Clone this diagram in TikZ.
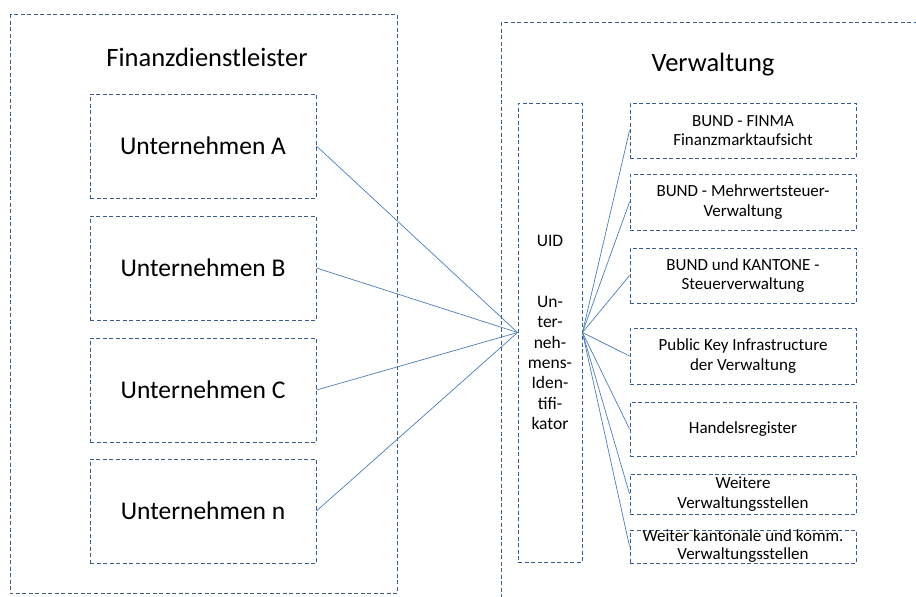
\documentclass[tikz,border=0pt]{standalone}
\usepackage{fontspec}
\setmainfont{Carlito}
\usetikzlibrary{positioning}
\definecolor{rahmen}{RGB}{56,93,138}
\definecolor{linie}{RGB}{74,126,187}

\begin{document}
\begin{tikzpicture}[x=1pt, y=-1pt,
        gruppe/.style={draw=rahmen, line width=0.9pt, dash pattern=on 4pt off 2.5pt},
        firma/.style={gruppe, minimum width=226pt, minimum height=104pt, inner sep=0pt, font=\fontsize{25.5}{30}\selectfont},
        amt/.style={gruppe, minimum width=226pt, inner sep=0pt, align=center, font=\fontsize{17}{19.5}\selectfont},
        verbindung/.style={draw=linie, line width=0.7pt}]
        \useasboundingbox (0,0) rectangle (916,597);
        \clip (0,0) rectangle (916,597);
        % die zwei Bereiche
        \draw[gruppe] (10,14) rectangle (397,593);
        \draw[gruppe] (501,22) rectangle (940,620);
        \node[font=\fontsize{26.5}{31}\selectfont] (links) at (207,57) {Finanzdienstleister};
        \node[font=\fontsize{26.5}{31}\selectfont] (rechts) at (713,65) {Verwaltung};
        \node[gruppe, minimum width=64pt, minimum height=459pt, inner sep=0pt, align=center,
              font=\fontsize{17.5}{20.3}\selectfont] (uid) at (550,332.5)
              {UID\\[40.6pt]Un-\\ter-\\neh-\\mens-\\Iden-\\tifi-\\kator};
        \foreach \name/\y/\txt in {ua/146/A, ub/268/B, uc/390/C, un/511/n}{
        \node[firma] (\name) at (203,\y) {Unternehmen \txt};
        \draw[verbindung] (\name.east) -- (uid.west);}
        \foreach \name/\y/\h/\txt in {a1/130.5/55/{BUND - FINMA\\Finanzmarktaufsicht},
                a2/202/56/{BUND - Mehrwertsteuer-\\Verwaltung},
                a3/275.5/55/{BUND und KANTONE -\\Steuerverwaltung},
                a4/356/56/{Public Key Infrastructure\\der Verwaltung},
                a5/429/54/{Handelsregister},
                a6/494/40/{Weitere\\[1pt]Verwaltungsstellen},
                a7/546.5/33/{Weiter kantonale und komm.\\[-1.5pt]Verwaltungsstellen}}{
        \node[amt, minimum height=\h pt] (\name) at (743,\y) {\txt};
        \draw[verbindung] (uid.east) -- (\name.west);}
    \end{tikzpicture}
\end{document}
